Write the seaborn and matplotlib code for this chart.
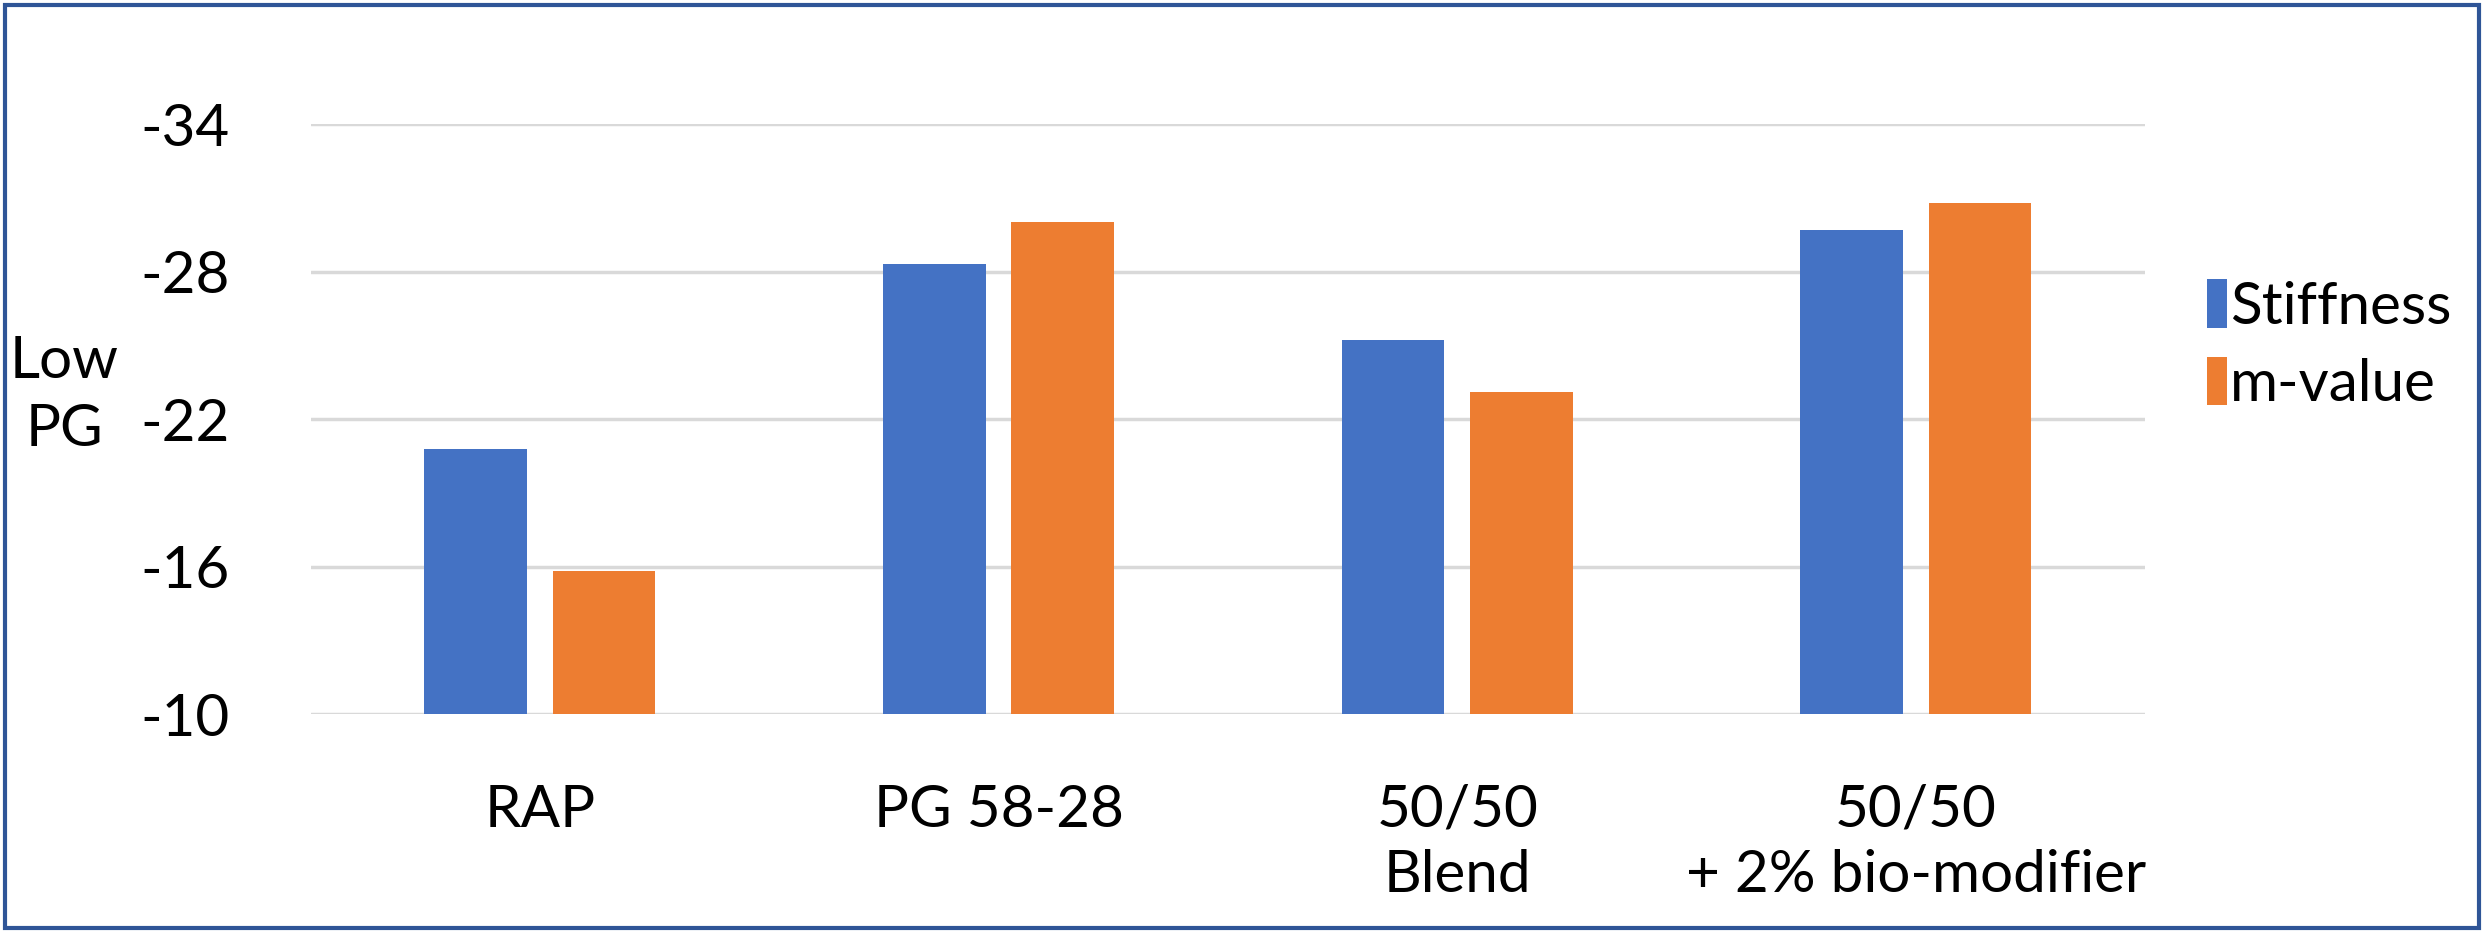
import pandas as pd
import matplotlib.pyplot as plt
import matplotlib.patches as mpatches
import seaborn as sns

# ---------------------------------------------------------------------
# Data (low PG temperature)
# ---------------------------------------------------------------------
categories = ["RAP", "PG 58-28", "50/50\nBlend", "50/50\n+ 2% bio-modifier"]
stiffness  = [-20.8, -28.3, -25.2, -29.7]
m_value    = [-15.8, -30.0, -23.1, -30.8]
series     = ["Stiffness", "m-value"]
y_ticks    = [-10, -16, -22, -28, -34]

df = pd.DataFrame({
    "category": categories * 2,
    "series": [series[0]] * 4 + [series[1]] * 4,
    "value": stiffness + m_value,
})

sns.set_theme(style="white")
plt.rcParams["font.family"] = ["Lato", "DejaVu Sans"]
plt.rcParams["text.color"] = "black"
plt.rcParams["xtick.color"] = "black"
plt.rcParams["ytick.color"] = "black"
COLORS = ["#4472C4", "#ED7D31"]

fig = plt.figure(figsize=(24.84, 9.31), dpi=100)
ax = fig.add_axes([0.125, 0.233, 0.7386, 0.6338])

sns.barplot(data=df, x="category", y="value", hue="series", palette=COLORS,
            saturation=1, width=0.56, gap=0.2, ax=ax, zorder=3, linewidth=0)

ax.set_ylim(-10, -34)
ax.set_yticks(y_ticks)
ax.set_yticklabels([str(t) for t in y_ticks], fontsize=42)
ax.yaxis.grid(True, color="#D9D9D9", linewidth=2.5, zorder=0)
ax.set_axisbelow(True)
for s in ax.spines.values():
    s.set_visible(False)
ax.tick_params(axis="y", length=0, pad=58)
ax.tick_params(axis="x", length=0, pad=50, labelsize=42)
for lbl in ax.get_xticklabels():
    lbl.set_linespacing(1.3)
ax.set_xlabel("")
ax.set_ylabel("")

fig.text(0.026, 0.575, "Low\nPG", fontsize=42, ha="center", va="center", linespacing=1.35)

leg = ax.legend(loc="center left", bbox_to_anchor=(1.005, 0.625), frameon=False,
                fontsize=42, handlelength=0.35, handleheight=0.9,
                handletextpad=0.05, labelspacing=0.4)

# chart border
fig.patches.append(mpatches.Rectangle((0.002, 0.003), 0.996, 0.992, transform=fig.transFigure,
                                      fill=False, edgecolor="#2F5597", linewidth=3))

plt.savefig("out.png", dpi=100)
